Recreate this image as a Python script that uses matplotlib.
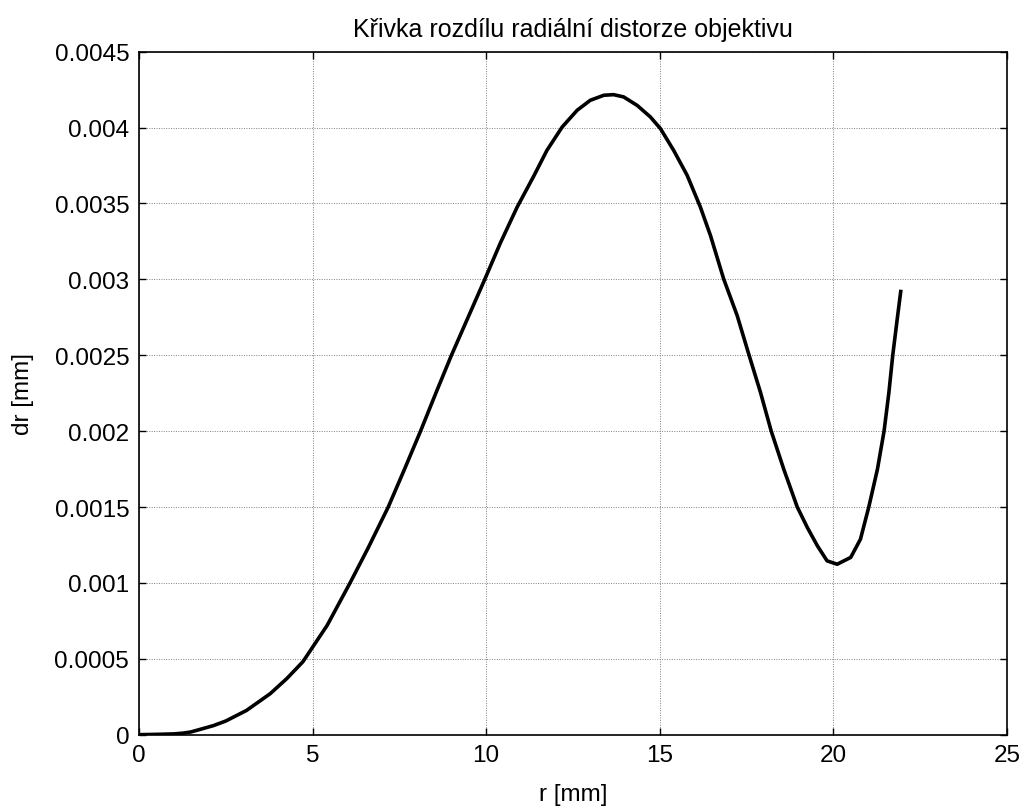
import numpy as np
import matplotlib
matplotlib.use("Agg")
import matplotlib.pyplot as plt

plt.rcParams['font.family'] = ['Liberation Sans', 'DejaVu Sans']

# radial distance [mm] and distortion difference [mm]
r = [0.0, 0.5, 1.0, 1.27, 1.5, 2.15, 2.5, 3.1, 3.78, 4.26, 4.72, 5.42,
     6.08, 6.6, 7.18, 7.65, 8.11, 8.55, 9.0, 9.48, 9.96, 10.41, 10.89,
     11.37, 11.75, 12.19, 12.62, 13.0, 13.39, 13.67, 13.96, 14.35, 14.73,
     15.02, 15.4, 15.79, 16.17, 16.46, 16.84, 17.23, 17.57, 17.9, 18.21,
     18.57, 18.96, 19.25, 19.54, 19.82, 20.11, 20.5, 20.78, 21.02, 21.27,
     21.46, 21.6, 21.71, 21.84, 21.94]
dr = [0.0, 0.000002, 0.000005, 0.00001, 0.000018, 0.00006, 0.00009,
      0.00016, 0.00027, 0.00037, 0.00048, 0.00072, 0.001, 0.00123,
      0.0015, 0.00175, 0.002, 0.00225, 0.0025, 0.00275, 0.003, 0.00324,
      0.003475, 0.00368, 0.00385, 0.004004, 0.004114, 0.00418, 0.004213,
      0.004217, 0.004202, 0.004146, 0.00407, 0.003993, 0.00385, 0.003685,
      0.003476, 0.003289, 0.003003, 0.002761, 0.002502, 0.002256, 0.002,
      0.00175, 0.0015, 0.001365, 0.001244, 0.001145, 0.001123, 0.001168,
      0.001288, 0.0015, 0.00175, 0.002, 0.002256, 0.0025, 0.00274, 0.00292]

xticks = [0, 5, 10, 15, 20, 25]
yticks = [0, 0.0005, 0.001, 0.0015, 0.002, 0.0025, 0.003, 0.0035, 0.004, 0.0045]
ytick_labels = ['0', '0.0005', '0.001', '0.0015', '0.002', '0.0025',
                '0.003', '0.0035', '0.004', '0.0045']

fig = plt.figure(figsize=(10.27, 8.12), dpi=100)
ax = fig.add_axes([0.1353, 0.0940, 0.8452, 0.8411])

ax.plot(r, dr, color='black', linewidth=2.6, solid_joinstyle='round')

ax.set_xlim(0, 25)
ax.set_ylim(0, 0.0045)
ax.set_xticks(xticks)
ax.set_yticks(yticks)
ax.set_yticklabels(ytick_labels)
ax.tick_params(direction='in', length=5, width=1, top=True, right=True,
               labelsize=17.5, pad=7)
ax.grid(True, color='#808080', linestyle=(0, (1, 1.5)), linewidth=0.7)
for s in ax.spines.values():
    s.set_linewidth(1.2)

ax.set_title('Křivka rozdílu radiální distorze objektivu', fontsize=18, pad=11)
ax.set_xlabel('r [mm]', fontsize=17.5, labelpad=12)
ax.set_ylabel('dr [mm]', fontsize=17.5, labelpad=15)

fig.savefig('out.png', dpi=100, facecolor='white')
